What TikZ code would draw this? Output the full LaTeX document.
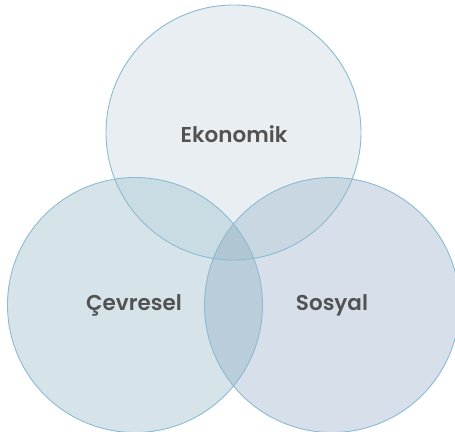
\documentclass[tikz,border=0pt]{standalone}
\usepackage{fontspec}
\setmainfont{Poppins}[UprightFont=* SemiBold]
\definecolor{ctop}{HTML}{E8EEF1}
\definecolor{cleft}{HTML}{D6E4EA}
\definecolor{cright}{HTML}{D7DFEB}
\definecolor{ctl}{HTML}{C9DCE3}
\definecolor{ctr}{HTML}{C9D7E2}
\definecolor{clr}{HTML}{B9CEDA}
\definecolor{call}{HTML}{B0C7D3}
\definecolor{cline}{HTML}{8CBAD2}
\definecolor{ctext}{HTML}{525252}
\begin{document}
\begin{tikzpicture}[x=1pt,y=-1pt,
  lab/.style={text=ctext,font=\fontsize{21.5}{24}\selectfont,anchor=base,inner sep=0pt},
  ring/.style={draw=cline,line width=0.9pt}]
\useasboundingbox (0,0) rectangle (455,431);
\clip (0,0) rectangle (455,431);
\def\rr{127.5}
\coordinate (T) at (233.5,132.5);
\coordinate (L) at (135,305);
\coordinate (R) at (332,305);
% single fills
\fill[ctop] (T) circle[radius=\rr];
\fill[cleft] (L) circle[radius=\rr];
\fill[cright] (R) circle[radius=\rr];
% pair fills
\begin{scope}\clip (T) circle[radius=\rr]; \fill[ctl] (L) circle[radius=\rr];\end{scope}
\begin{scope}\clip (T) circle[radius=\rr]; \fill[ctr] (R) circle[radius=\rr];\end{scope}
\begin{scope}\clip (L) circle[radius=\rr]; \fill[clr] (R) circle[radius=\rr];\end{scope}
\begin{scope}\clip (L) circle[radius=\rr]; \clip (R) circle[radius=\rr]; \fill[call] (T) circle[radius=\rr];\end{scope}
% outlines
\draw[ring] (T) circle[radius=\rr];
\draw[ring] (L) circle[radius=\rr];
\draw[ring] (R) circle[radius=\rr];
% labels
\node[lab] (ek) at (234,142.7) {Ekonomik};
\node[lab] (cv) at (134,310) {Çevresel};
\node[lab] (so) at (332,310) {Sosyal};
\end{tikzpicture}
\end{document}
